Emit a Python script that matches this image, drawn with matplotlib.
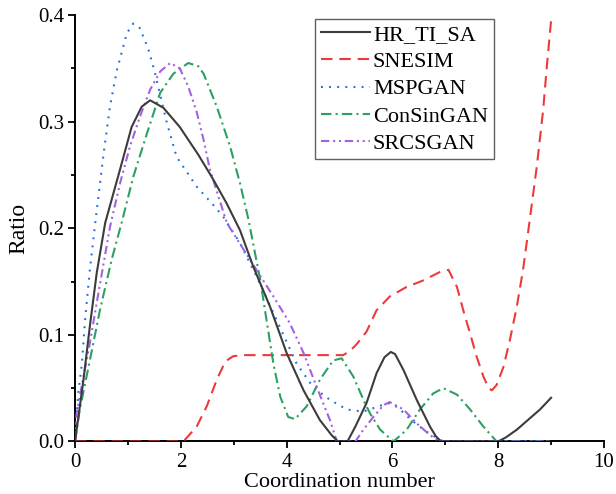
import matplotlib
matplotlib.use('Agg')
import matplotlib.pyplot as plt
from matplotlib.ticker import MultipleLocator

plt.rcParams['font.family'] = ['Liberation Serif', 'DejaVu Serif']

# values
hr_x = [0, 0.16, 0.28, 0.41, 0.57, 0.85, 1.07, 1.26, 1.42, 1.67, 1.98, 2.33, 2.61, 2.87, 3.12,
        3.37, 3.69, 4.0, 4.32, 4.63, 4.85, 4.97, 5.15, 5.3, 5.51, 5.7, 5.85, 5.97, 6.05, 6.21,
        6.46, 6.71, 6.82, 6.92, 8.0, 8.15, 8.35, 8.79, 9.0]
hr_y = [0, 0.058, 0.108, 0.158, 0.205, 0.255, 0.295, 0.314, 0.320, 0.313, 0.295, 0.269, 0.246,
        0.223, 0.198, 0.164, 0.126, 0.083, 0.048, 0.020, 0.006, 0, 0, 0.014, 0.036, 0.064, 0.079,
        0.084, 0.082, 0.067, 0.039, 0.014, 0.005, 0, 0, 0.004, 0.011, 0.030, 0.041]

sn_x = [0, 2.05, 2.3, 2.49, 2.68, 2.84, 2.99, 3.2, 5.07, 5.2, 5.32, 5.51, 5.7, 5.95, 6.27, 6.58,
        6.9, 7.06, 7.22, 7.34, 7.47, 7.59, 7.72, 7.82, 7.88, 7.97, 8.1, 8.22, 8.35, 8.47, 8.57,
        8.73, 8.85, 8.92, 9.0]
sn_y = [0, 0, 0.014, 0.033, 0.058, 0.075, 0.080, 0.081, 0.081, 0.085, 0.091, 0.103, 0.123, 0.136,
        0.145, 0.151, 0.159, 0.161, 0.145, 0.123, 0.101, 0.080, 0.061, 0.050, 0.048, 0.053, 0.070,
        0.095, 0.126, 0.161, 0.198, 0.258, 0.311, 0.352, 0.395]

ms_x = [0, 0.06, 0.13, 0.19, 0.28, 0.38, 0.54, 0.66, 0.79, 0.98, 1.1, 1.22, 1.38, 1.51, 1.73,
        1.92, 2.30, 2.61, 2.8, 3.12, 3.43, 3.81, 4.19, 4.5, 4.82, 5.14, 5.45, 5.8, 5.95, 6.1,
        6.36, 6.65, 6.96, 9.0]
ms_y = [0, 0.045, 0.073, 0.114, 0.161, 0.204, 0.270, 0.314, 0.348, 0.383, 0.392, 0.388, 0.369,
        0.346, 0.300, 0.267, 0.239, 0.222, 0.211, 0.186, 0.155, 0.114, 0.073, 0.051, 0.039, 0.030,
        0.028, 0.034, 0.036, 0.032, 0.020, 0.009, 0, 0]

cs_x = [0, 0.09, 0.28, 0.47, 0.69, 0.88, 1.1, 1.36, 1.61, 1.86, 2.14, 2.33, 2.43, 2.68, 2.93,
        3.12, 3.28, 3.37, 3.5, 3.62, 3.75, 3.88, 4.03, 4.16, 4.38, 4.63, 4.88, 5.04, 5.26, 5.48,
        5.58, 5.77, 6.02, 6.27, 6.52, 6.77, 6.96, 7.22, 7.47, 7.72, 7.97, 9.0]
cs_y = [0, 0.030, 0.076, 0.123, 0.170, 0.205, 0.248, 0.289, 0.327, 0.345, 0.355, 0.352, 0.345,
        0.314, 0.277, 0.242, 0.208, 0.185, 0.152, 0.114, 0.073, 0.042, 0.023, 0.021, 0.033, 0.058,
        0.076, 0.078, 0.061, 0.036, 0.026, 0.011, 0, 0.011, 0.030, 0.045, 0.050, 0.044, 0.030,
        0.014, 0, 0]

sr_x = [0, 0.03, 0.16, 0.28, 0.41, 0.54, 0.66, 0.85, 1.04, 1.23, 1.42, 1.61, 1.80, 1.98, 2.14,
        2.30, 2.43, 2.55, 2.71, 2.87, 3.06, 3.43, 3.75, 4.06, 4.32, 4.57, 4.82, 4.95, 5.3, 5.45,
        5.64, 5.83, 5.95, 6.21, 6.46, 6.71, 6.9, 9.0]
sr_y = [0, 0.026, 0.061, 0.092, 0.130, 0.167, 0.201, 0.242, 0.277, 0.305, 0.330, 0.347, 0.355,
        0.350, 0.333, 0.309, 0.283, 0.255, 0.230, 0.205, 0.190, 0.161, 0.136, 0.111, 0.083, 0.051,
        0.020, 0, 0, 0.011, 0.023, 0.034, 0.037, 0.030, 0.017, 0.006, 0, 0]

fig = plt.figure(figsize=(6.16, 4.94), dpi=100)
ax = fig.add_axes([0.1218, 0.1063, 0.8587, 0.8633])

lw = 1.5
ax.plot(hr_x, hr_y, color='#3c3c3c', lw=lw, label='HR_TI_SA', zorder=5)
ax.plot(sn_x, sn_y, color='#ec3a3c', lw=lw, dashes=(5.5, 3.3), label='SNESIM', zorder=3)
ax.plot(ms_x, ms_y, color='#1f6fe0', lw=lw, dashes=(0.9, 3.0), label='MSPGAN', zorder=4)
ax.plot(cs_x, cs_y, color='#2ca062', lw=lw, dashes=(5, 2, 1, 2), label='ConSinGAN', zorder=4)
ax.plot(sr_x, sr_y, color='#a262e2', lw=lw, dashes=(4, 1.8, 1, 1.8, 1, 1.8), label='SRCSGAN', zorder=4)

ax.set_xlim(0, 10)
ax.set_ylim(0, 0.4)
ax.xaxis.set_major_locator(MultipleLocator(2))
ax.xaxis.set_minor_locator(MultipleLocator(1))
ax.yaxis.set_major_locator(MultipleLocator(0.1))
ax.yaxis.set_minor_locator(MultipleLocator(0.05))
ax.yaxis.set_major_formatter(plt.FormatStrFormatter('%.1f'))

for side in ['top', 'right']:
    ax.spines[side].set_visible(False)
for side in ['left', 'bottom']:
    ax.spines[side].set_linewidth(1.4)
ax.tick_params(which='major', direction='out', length=5, width=1.3, labelsize=15, pad=3)
ax.tick_params(which='minor', direction='out', length=3, width=1.3)

ax.set_xlabel('Coordination number', fontsize=16, labelpad=1)
ax.set_ylabel('Ratio', fontsize=17, labelpad=6)

leg = ax.legend(loc='upper left', bbox_to_anchor=(0.454, 0.991), borderaxespad=0,
                fontsize=16, handlelength=2.2, handletextpad=0.15, labelspacing=0.3,
                borderpad=0.25, fancybox=False, framealpha=1, edgecolor='#606060')
leg.get_frame().set_linewidth(1.0)

plt.savefig('out.png', dpi=100)
